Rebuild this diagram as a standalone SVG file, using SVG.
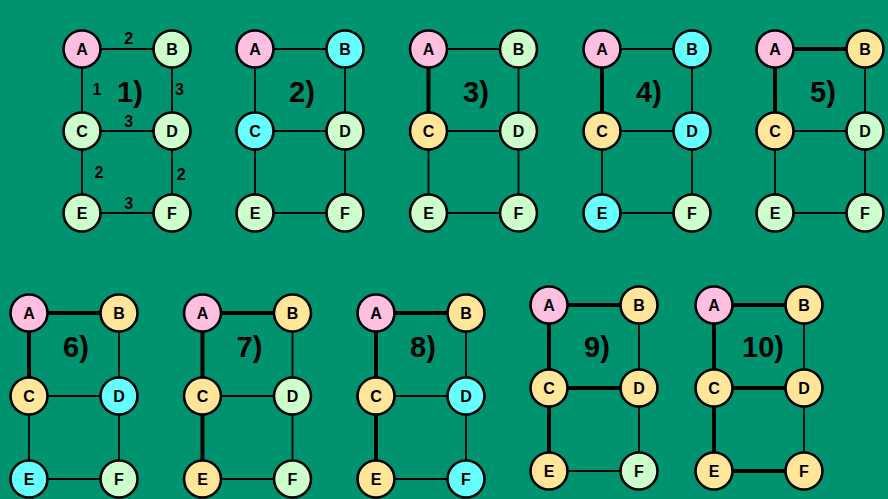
<svg xmlns="http://www.w3.org/2000/svg" width="888" height="499" viewBox="0 0 888 499">
<style>
.bg{fill:#00936F}
.n{stroke:#000;stroke-width:2.6}
.pk{fill:#FFBFE1}
.gr{fill:#CCFFCC}
.cy{fill:#66FFFF}
.ye{fill:#FFE699}
.t{font-family:"Liberation Sans",Arial,sans-serif;font-weight:bold;font-size:16px;fill:#000;text-anchor:middle}
.lb{font-family:"Liberation Sans",Arial,sans-serif;font-weight:bold;font-size:29px;fill:#000;text-anchor:middle}
.w{font-family:"Liberation Sans",Arial,sans-serif;font-weight:bold;font-size:16px;fill:#000;text-anchor:middle}
.e{stroke:#000;stroke-width:1.8;fill:none}
.b{stroke:#000;stroke-width:4;fill:none}
</style>
<rect class="bg" x="0" y="0" width="888" height="499"/>
<g id="connectors">
<!-- P1 -->
<line class="e" x1="82" y1="49" x2="172" y2="49"/><line class="e" x1="82" y1="49" x2="82" y2="131"/><line class="e" x1="172" y1="49" x2="172" y2="131"/><line class="e" x1="82" y1="131" x2="172" y2="131"/><line class="e" x1="82" y1="131" x2="82" y2="213"/><line class="e" x1="172" y1="131" x2="172" y2="213"/><line class="e" x1="82" y1="213" x2="172" y2="213"/>
<!-- P2 -->
<line class="e" x1="255" y1="49" x2="345" y2="49"/><line class="e" x1="255" y1="49" x2="255" y2="131"/><line class="e" x1="345" y1="49" x2="345" y2="131"/><line class="e" x1="255" y1="131" x2="345" y2="131"/><line class="e" x1="255" y1="131" x2="255" y2="213"/><line class="e" x1="345" y1="131" x2="345" y2="213"/><line class="e" x1="255" y1="213" x2="345" y2="213"/>
<!-- P3 -->
<line class="e" x1="428.5" y1="49" x2="518.5" y2="49"/><line class="b" x1="428.5" y1="49" x2="428.5" y2="131"/><line class="e" x1="518.5" y1="49" x2="518.5" y2="131"/><line class="e" x1="428.5" y1="131" x2="518.5" y2="131"/><line class="e" x1="428.5" y1="131" x2="428.5" y2="213"/><line class="e" x1="518.5" y1="131" x2="518.5" y2="213"/><line class="e" x1="428.5" y1="213" x2="518.5" y2="213"/>
<!-- P4 -->
<line class="e" x1="602" y1="49" x2="692" y2="49"/><line class="b" x1="602" y1="49" x2="602" y2="131"/><line class="e" x1="692" y1="49" x2="692" y2="131"/><line class="e" x1="602" y1="131" x2="692" y2="131"/><line class="e" x1="602" y1="131" x2="602" y2="213"/><line class="e" x1="692" y1="131" x2="692" y2="213"/><line class="e" x1="602" y1="213" x2="692" y2="213"/>
<!-- P5 -->
<line class="b" x1="775" y1="49" x2="865" y2="49"/><line class="b" x1="775" y1="49" x2="775" y2="131"/><line class="e" x1="865" y1="49" x2="865" y2="131"/><line class="e" x1="775" y1="131" x2="865" y2="131"/><line class="e" x1="775" y1="131" x2="775" y2="213"/><line class="e" x1="865" y1="131" x2="865" y2="213"/><line class="e" x1="775" y1="213" x2="865" y2="213"/>
<!-- P6 -->
<line class="b" x1="29" y1="313" x2="119" y2="313"/><line class="b" x1="29" y1="313" x2="29" y2="396"/><line class="e" x1="119" y1="313" x2="119" y2="396"/><line class="e" x1="29" y1="396" x2="119" y2="396"/><line class="e" x1="29" y1="396" x2="29" y2="479"/><line class="e" x1="119" y1="396" x2="119" y2="479"/><line class="e" x1="29" y1="479" x2="119" y2="479"/>
<!-- P7 -->
<line class="b" x1="202.5" y1="313" x2="292.5" y2="313"/><line class="b" x1="202.5" y1="313" x2="202.5" y2="396"/><line class="e" x1="292.5" y1="313" x2="292.5" y2="396"/><line class="e" x1="202.5" y1="396" x2="292.5" y2="396"/><line class="b" x1="202.5" y1="396" x2="202.5" y2="479"/><line class="e" x1="292.5" y1="396" x2="292.5" y2="479"/><line class="e" x1="202.5" y1="479" x2="292.5" y2="479"/>
<!-- P8 -->
<line class="b" x1="376" y1="313" x2="466" y2="313"/><line class="b" x1="376" y1="313" x2="376" y2="396"/><line class="e" x1="466" y1="313" x2="466" y2="396"/><line class="e" x1="376" y1="396" x2="466" y2="396"/><line class="b" x1="376" y1="396" x2="376" y2="479"/><line class="e" x1="466" y1="396" x2="466" y2="479"/><line class="e" x1="376" y1="479" x2="466" y2="479"/>
<!-- P9 -->
<line class="b" x1="549" y1="305" x2="639" y2="305"/><line class="b" x1="549" y1="305" x2="549" y2="388"/><line class="e" x1="639" y1="305" x2="639" y2="388"/><line class="b" x1="549" y1="388" x2="639" y2="388"/><line class="b" x1="549" y1="388" x2="549" y2="471"/><line class="e" x1="639" y1="388" x2="639" y2="471"/><line class="e" x1="549" y1="471" x2="639" y2="471"/>
<!-- P10 -->
<line class="b" x1="714" y1="305" x2="804" y2="305"/><line class="b" x1="714" y1="305" x2="714" y2="388"/><line class="e" x1="804" y1="305" x2="804" y2="388"/><line class="b" x1="714" y1="388" x2="804" y2="388"/><line class="b" x1="714" y1="388" x2="714" y2="471"/><line class="e" x1="804" y1="388" x2="804" y2="471"/><line class="b" x1="714" y1="471" x2="804" y2="471"/>
</g>
<g id="weights">
<text class="w" x="128.7" y="44">2</text>
<text class="w" x="97" y="95">1</text>
<text class="w" x="179.5" y="95">3</text>
<text class="w" x="128.7" y="126.5">3</text>
<text class="w" x="99" y="178">2</text>
<text class="w" x="181.3" y="180">2</text>
<text class="w" x="128.7" y="209">3</text>
</g>
<g id="labels">
<text class="lb" x="130" y="102">1)</text>
<text class="lb" x="302" y="102">2)</text>
<text class="lb" x="476" y="102">3)</text>
<text class="lb" x="649" y="102">4)</text>
<text class="lb" x="823" y="102">5)</text>
<text class="lb" x="76" y="357">6)</text>
<text class="lb" x="249.5" y="357">7)</text>
<text class="lb" x="423" y="357">8)</text>
<text class="lb" x="597" y="357">9)</text>
<text class="lb" x="763" y="357">10)</text>
</g>
<!-- Panel 1 -->
<g id="p1-A"><circle class="n pk" cx="82" cy="49" r="18.5"/><text class="t" x="82" y="54.5">A</text></g>
<g id="p1-B"><circle class="n gr" cx="172" cy="49" r="18.5"/><text class="t" x="172" y="54.5">B</text></g>
<g id="p1-C"><circle class="n gr" cx="82" cy="131" r="18.5"/><text class="t" x="82" y="136.5">C</text></g>
<g id="p1-D"><circle class="n gr" cx="172" cy="131" r="18.5"/><text class="t" x="172" y="136.5">D</text></g>
<g id="p1-E"><circle class="n gr" cx="82" cy="213" r="18.5"/><text class="t" x="82" y="218.5">E</text></g>
<g id="p1-F"><circle class="n gr" cx="172" cy="213" r="18.5"/><text class="t" x="172" y="218.5">F</text></g>
<!-- Panel 2 -->
<g id="p2-A"><circle class="n pk" cx="255" cy="49" r="18.5"/><text class="t" x="255" y="54.5">A</text></g>
<g id="p2-B"><circle class="n cy" cx="345" cy="49" r="18.5"/><text class="t" x="345" y="54.5">B</text></g>
<g id="p2-C"><circle class="n cy" cx="255" cy="131" r="18.5"/><text class="t" x="255" y="136.5">C</text></g>
<g id="p2-D"><circle class="n gr" cx="345" cy="131" r="18.5"/><text class="t" x="345" y="136.5">D</text></g>
<g id="p2-E"><circle class="n gr" cx="255" cy="213" r="18.5"/><text class="t" x="255" y="218.5">E</text></g>
<g id="p2-F"><circle class="n gr" cx="345" cy="213" r="18.5"/><text class="t" x="345" y="218.5">F</text></g>
<!-- Panel 3 -->
<g id="p3-A"><circle class="n pk" cx="428.5" cy="49" r="18.5"/><text class="t" x="428.5" y="54.5">A</text></g>
<g id="p3-B"><circle class="n gr" cx="518.5" cy="49" r="18.5"/><text class="t" x="518.5" y="54.5">B</text></g>
<g id="p3-C"><circle class="n ye" cx="428.5" cy="131" r="18.5"/><text class="t" x="428.5" y="136.5">C</text></g>
<g id="p3-D"><circle class="n gr" cx="518.5" cy="131" r="18.5"/><text class="t" x="518.5" y="136.5">D</text></g>
<g id="p3-E"><circle class="n gr" cx="428.5" cy="213" r="18.5"/><text class="t" x="428.5" y="218.5">E</text></g>
<g id="p3-F"><circle class="n gr" cx="518.5" cy="213" r="18.5"/><text class="t" x="518.5" y="218.5">F</text></g>
<!-- Panel 4 -->
<g id="p4-A"><circle class="n pk" cx="602" cy="49" r="18.5"/><text class="t" x="602" y="54.5">A</text></g>
<g id="p4-B"><circle class="n cy" cx="692" cy="49" r="18.5"/><text class="t" x="692" y="54.5">B</text></g>
<g id="p4-C"><circle class="n ye" cx="602" cy="131" r="18.5"/><text class="t" x="602" y="136.5">C</text></g>
<g id="p4-D"><circle class="n cy" cx="692" cy="131" r="18.5"/><text class="t" x="692" y="136.5">D</text></g>
<g id="p4-E"><circle class="n cy" cx="602" cy="213" r="18.5"/><text class="t" x="602" y="218.5">E</text></g>
<g id="p4-F"><circle class="n gr" cx="692" cy="213" r="18.5"/><text class="t" x="692" y="218.5">F</text></g>
<!-- Panel 5 -->
<g id="p5-A"><circle class="n pk" cx="775" cy="49" r="18.5"/><text class="t" x="775" y="54.5">A</text></g>
<g id="p5-B"><circle class="n ye" cx="865" cy="49" r="18.5"/><text class="t" x="865" y="54.5">B</text></g>
<g id="p5-C"><circle class="n ye" cx="775" cy="131" r="18.5"/><text class="t" x="775" y="136.5">C</text></g>
<g id="p5-D"><circle class="n gr" cx="865" cy="131" r="18.5"/><text class="t" x="865" y="136.5">D</text></g>
<g id="p5-E"><circle class="n gr" cx="775" cy="213" r="18.5"/><text class="t" x="775" y="218.5">E</text></g>
<g id="p5-F"><circle class="n gr" cx="865" cy="213" r="18.5"/><text class="t" x="865" y="218.5">F</text></g>
<!-- Panel 6 -->
<g id="p6-A"><circle class="n pk" cx="29" cy="313" r="18.5"/><text class="t" x="29" y="318.5">A</text></g>
<g id="p6-B"><circle class="n ye" cx="119" cy="313" r="18.5"/><text class="t" x="119" y="318.5">B</text></g>
<g id="p6-C"><circle class="n ye" cx="29" cy="396" r="18.5"/><text class="t" x="29" y="401.5">C</text></g>
<g id="p6-D"><circle class="n cy" cx="119" cy="396" r="18.5"/><text class="t" x="119" y="401.5">D</text></g>
<g id="p6-E"><circle class="n cy" cx="29" cy="479" r="18.5"/><text class="t" x="29" y="484.5">E</text></g>
<g id="p6-F"><circle class="n gr" cx="119" cy="479" r="18.5"/><text class="t" x="119" y="484.5">F</text></g>
<!-- Panel 7 -->
<g id="p7-A"><circle class="n pk" cx="202.5" cy="313" r="18.5"/><text class="t" x="202.5" y="318.5">A</text></g>
<g id="p7-B"><circle class="n ye" cx="292.5" cy="313" r="18.5"/><text class="t" x="292.5" y="318.5">B</text></g>
<g id="p7-C"><circle class="n ye" cx="202.5" cy="396" r="18.5"/><text class="t" x="202.5" y="401.5">C</text></g>
<g id="p7-D"><circle class="n gr" cx="292.5" cy="396" r="18.5"/><text class="t" x="292.5" y="401.5">D</text></g>
<g id="p7-E"><circle class="n ye" cx="202.5" cy="479" r="18.5"/><text class="t" x="202.5" y="484.5">E</text></g>
<g id="p7-F"><circle class="n gr" cx="292.5" cy="479" r="18.5"/><text class="t" x="292.5" y="484.5">F</text></g>
<!-- Panel 8 -->
<g id="p8-A"><circle class="n pk" cx="376" cy="313" r="18.5"/><text class="t" x="376" y="318.5">A</text></g>
<g id="p8-B"><circle class="n ye" cx="466" cy="313" r="18.5"/><text class="t" x="466" y="318.5">B</text></g>
<g id="p8-C"><circle class="n ye" cx="376" cy="396" r="18.5"/><text class="t" x="376" y="401.5">C</text></g>
<g id="p8-D"><circle class="n cy" cx="466" cy="396" r="18.5"/><text class="t" x="466" y="401.5">D</text></g>
<g id="p8-E"><circle class="n ye" cx="376" cy="479" r="18.5"/><text class="t" x="376" y="484.5">E</text></g>
<g id="p8-F"><circle class="n cy" cx="466" cy="479" r="18.5"/><text class="t" x="466" y="484.5">F</text></g>
<!-- Panel 9 -->
<g id="p9-A"><circle class="n pk" cx="549" cy="305" r="18.5"/><text class="t" x="549" y="310.5">A</text></g>
<g id="p9-B"><circle class="n ye" cx="639" cy="305" r="18.5"/><text class="t" x="639" y="310.5">B</text></g>
<g id="p9-C"><circle class="n ye" cx="549" cy="388" r="18.5"/><text class="t" x="549" y="393.5">C</text></g>
<g id="p9-D"><circle class="n ye" cx="639" cy="388" r="18.5"/><text class="t" x="639" y="393.5">D</text></g>
<g id="p9-E"><circle class="n ye" cx="549" cy="471" r="18.5"/><text class="t" x="549" y="476.5">E</text></g>
<g id="p9-F"><circle class="n gr" cx="639" cy="471" r="18.5"/><text class="t" x="639" y="476.5">F</text></g>
<!-- Panel 10 -->
<g id="p10-A"><circle class="n pk" cx="714" cy="305" r="18.5"/><text class="t" x="714" y="310.5">A</text></g>
<g id="p10-B"><circle class="n ye" cx="804" cy="305" r="18.5"/><text class="t" x="804" y="310.5">B</text></g>
<g id="p10-C"><circle class="n ye" cx="714" cy="388" r="18.5"/><text class="t" x="714" y="393.5">C</text></g>
<g id="p10-D"><circle class="n ye" cx="804" cy="388" r="18.5"/><text class="t" x="804" y="393.5">D</text></g>
<g id="p10-E"><circle class="n ye" cx="714" cy="471" r="18.5"/><text class="t" x="714" y="476.5">E</text></g>
<g id="p10-F"><circle class="n ye" cx="804" cy="471" r="18.5"/><text class="t" x="804" y="476.5">F</text></g>
</svg>
